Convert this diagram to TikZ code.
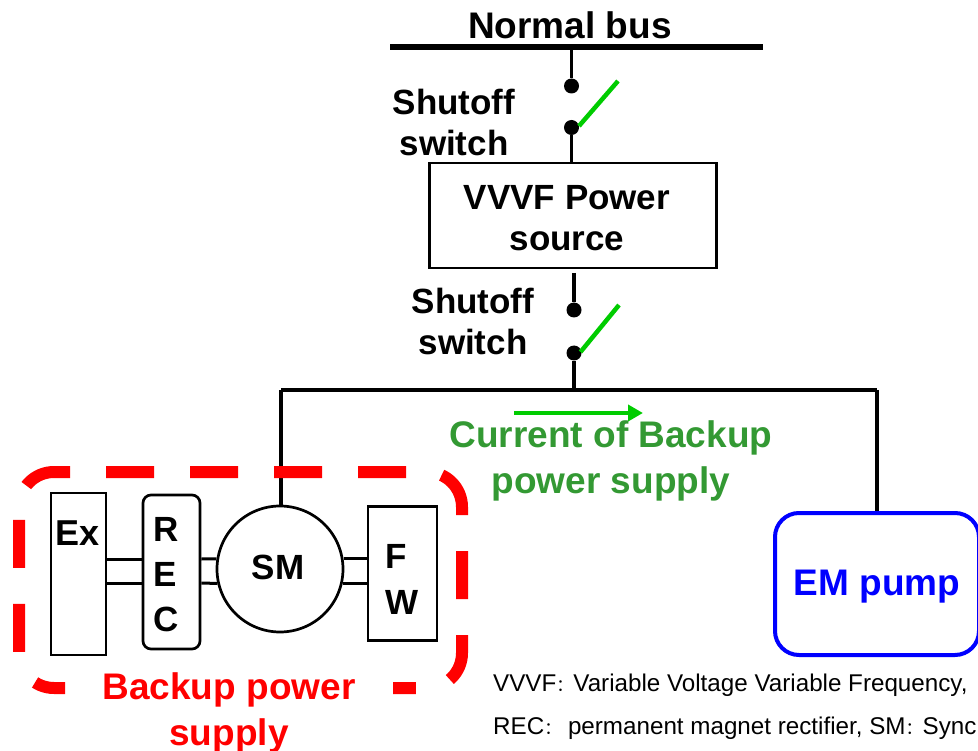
\documentclass[tikz,border=0pt]{standalone}
\usepackage{fontspec}
\usetikzlibrary{arrows.meta}
\setmainfont{Liberation Sans}
\newfontfamily\cjk{Noto Sans CJK SC}
\newcommand{\notecolon}{{\cjk\fontsize{17}{24}\selectfont：}}
\definecolor{switchgreen}{RGB}{0,204,0}
\definecolor{labelgreen}{RGB}{51,153,51}
\begin{document}
\begin{tikzpicture}[x=1pt, y=-1pt,
    wire/.style={line width=3.5pt},
    thin wire/.style={line width=3pt},
    dot node/.style={circle, fill=black, inner sep=0pt, minimum size=15pt},
    main box/.style={rectangle, draw, line width=2.7pt, inner sep=0pt},
    blade/.style={draw=switchgreen, line width=4.5pt}]
  \tikzstyle{every node}=[align=center, font=\fontsize{35}{41}\selectfont\bfseries]
  \clip (0,0) rectangle (978,751);

  \coordinate (busl) at (390,47);
  \coordinate (busr) at (763,47);
  \coordinate (bustap) at (571.5,47);
  \node[font=\fontsize{37}{43}\selectfont\bfseries] (normal) at (570,25) {Normal bus};
  \node[dot node] (d1) at (571.5,86) {};
  \node[dot node] (d2) at (571.5,127.5) {};
  \coordinate (b1) at (618,81);
  \node[] (sw1) at (454,122) {Shutoff\\switch};
  \node[main box, minimum width=286.5pt, minimum height=105pt] (vvvf) at (573,215.5) {};
  \node[] (vvvflabel) at (567,218.5) {VVVF Power\\source};
  \coordinate (vvvfout) at (574,273);
  \node[dot node] (d3) at (574,310) {};
  \node[dot node] (d4) at (574,353) {};
  \coordinate (b2) at (619,305);
  \node[] (sw2) at (473,321) {Shutoff\\switch};

  \coordinate (top) at (574,390);
  \coordinate (topl) at (281,390);
  \coordinate (topr) at (877,390);

  \node[main box, circle, minimum size=126pt] (sm) at (280,569) {};
  \node[] (smlabel) at (278,567) {SM};
  \node[main box, minimum width=55pt, minimum height=162pt] (ex) at (78.5,574) {};
  \node[font=\fontsize{36}{41}\selectfont\bfseries] (exlabel) at (78,533) {Ex};
  \node[align=left] (reclabel) at (166,575) {R\\[4pt]E\\[4pt]C};
  \node[main box, rounded corners=8pt, minimum width=57pt, minimum height=154pt] (rec) at (171.5,572) {};
  \node[main box, minimum width=69pt, minimum height=134pt] (fw) at (402.5,573.5) {};
  \node[align=left] (fwlabel) at (402.5,579) {F\\[5pt]W};
  \node[main box, draw=blue, line width=4pt, rounded corners=24pt, minimum width=204pt, minimum height=142pt] (em) at (877,584) {};
  \node[text=blue, font=\fontsize{37}{43}\selectfont\bfseries] (emlabel) at (877,587) {EM pump};

  \path[wire]
    (busl) edge[line width=5.5pt] (busr)
    (bustap) edge (d1)
    (d2) edge (d2 |- vvvf.north)
    (vvvfout) edge (d3)
    (d4) edge (top)
    (topl) edge (topr)
    (topl) edge (topl |- sm.north)
    (topr) edge (topr |- em.north);
  \path[blade]
    (d2) ++(7.5,-1.5) edge (b1)
    (d4) ++(6.5,-1) edge (b2);
  \path[thin wire]
    (ex.east |- 0,559) edge (rec.west |- 0,559)
    (ex.east |- 0,583) edge (rec.west |- 0,583)
    (rec.east |- 0,559) edge (sm.171)
    (rec.east |- 0,583) edge (sm.193)
    (sm.9) edge (fw.west |- sm.9)
    (sm.-13) edge (fw.west |- sm.-13);

  \draw[red, line width=12pt, rounded corners=35pt, dash pattern=on 48pt off 36pt, dash phase=17pt]
    (65,688) -- (19,688) -- (19,472) -- (462,472) -- (462,688) -- (393,688);

  \coordinate (arrowa) at (514,413);
  \coordinate (arrowb) at (643,413);
  \draw[-{Triangle[length=15pt, width=16pt]}, switchgreen, line width=4.5pt] (arrowa) -- (arrowb);
  \node[text=labelgreen, font=\fontsize{37}{46}\selectfont\bfseries] (current) at (611,461) {Current of Backup\\power supply};
  \node[text=red, font=\fontsize{37}{46}\selectfont\bfseries] (backup) at (229,713) {Backup power\\supply};

  \node[anchor=base west, inner sep=0pt, font=\fontsize{24.2}{28}\selectfont] (note1) at (493,691) {VVVF\notecolon Variable Voltage Variable Frequency,};
  \node[anchor=base west, inner sep=0pt, font=\fontsize{24.2}{28}\selectfont] (note2) at (493,734) {REC\notecolon\ permanent magnet rectifier, SM\notecolon Sync};
\end{tikzpicture}
\end{document}
